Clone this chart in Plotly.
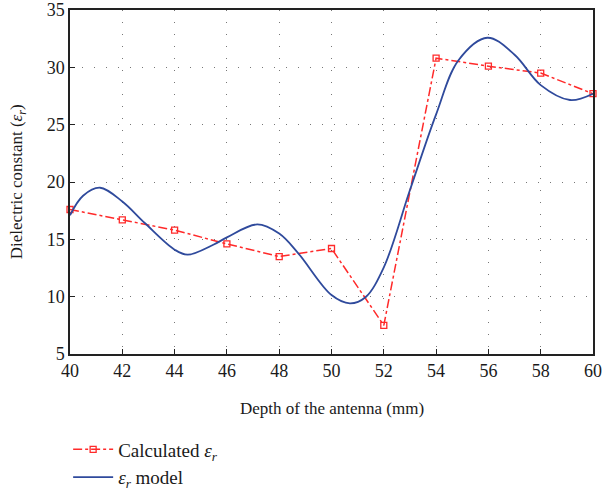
import plotly.graph_objects as go

depth_calc = [40, 42, 44, 46, 48, 50, 52, 54, 56, 58, 60]
eps_calc = [17.6, 16.7, 15.8, 14.6, 13.5, 14.2, 7.5, 30.8, 30.1, 29.5, 27.7]

depth_model = [40, 40.5, 41.15, 42, 42.87, 44, 44.5, 45.5, 46, 47.16, 48, 48.73,
               50, 50.7, 51.3, 52, 53, 54, 54.85, 55.96, 57, 58, 59.12, 60]
eps_model = [17.1, 18.8, 19.5, 18.3, 16.4, 14.1, 13.66, 14.55, 15.17, 16.3, 15.5, 13.78,
             10.14, 9.42, 9.95, 12.56, 19.3, 25.9, 30.6, 32.58, 31.1, 28.45, 27.15, 27.7]

x_ticks = [40, 42, 44, 46, 48, 50, 52, 54, 56, 58, 60]
y_ticks = [5, 10, 15, 20, 25, 30, 35]

font_family = "Liberation Serif"
txt = "#1a1a1a"

fig = go.Figure()
fig.add_trace(go.Scatter(
    x=depth_calc, y=eps_calc, mode="lines+markers",
    name="Calculated <i>ε<sub>r</sub></i>",
    line=dict(color="#FF2A2A", width=1.5, dash="dashdot"),
    marker=dict(symbol="square-open", size=6, color="#FF2A2A", line=dict(width=1.3)),
    cliponaxis=False,
))
fig.add_trace(go.Scatter(
    x=depth_model, y=eps_model, mode="lines",
    name="<i>ε<sub>r</sub></i> model",
    line=dict(color="#2F4A9C", width=1.8, shape="spline", smoothing=1.0),
))

axis_common = dict(
    showline=True, linecolor="#222222", linewidth=1.5, mirror=True,
    ticks="inside", ticklen=5, tickcolor="#222222",
    showgrid=True, gridcolor="#777777", gridwidth=1, griddash="1px,11px",
    zeroline=False, automargin=False,
    tickfont=dict(family=font_family, size=18, color=txt),
)

fig.update_xaxes(range=[40, 60], tickvals=x_ticks, **axis_common)
fig.update_yaxes(range=[5, 35], tickvals=y_ticks, **axis_common)

fig.update_layout(
    template="none",
    width=603, height=492,
    margin=dict(l=70, r=10, t=10, b=138, autoexpand=False),
    plot_bgcolor="white", paper_bgcolor="white",
    font=dict(family=font_family, size=17, color=txt),
    showlegend=True,
    legend=dict(xref="container", yref="container", x=0.113, y=0.125,
                xanchor="left", yanchor="top",
                bgcolor="rgba(0,0,0,0)", tracegroupgap=0, itemwidth=40,
                font=dict(family=font_family, size=19, color=txt)),
    annotations=[
        dict(text="Depth of the antenna (mm)", xref="paper", yref="paper",
             x=0.5, y=-0.157, xanchor="center", yanchor="middle", showarrow=False,
             font=dict(family=font_family, size=17, color=txt)),
        dict(text="Dielectric constant (<i>ε<sub>r</sub></i>)", xref="paper", yref="paper",
             x=-0.099, y=0.5, xanchor="center", yanchor="middle", showarrow=False,
             textangle=-90, font=dict(family=font_family, size=17, color=txt)),
    ],
)

fig.write_html("out.html", config={"displayModeBar": False},
               post_script="document.body.style.margin='0';")
